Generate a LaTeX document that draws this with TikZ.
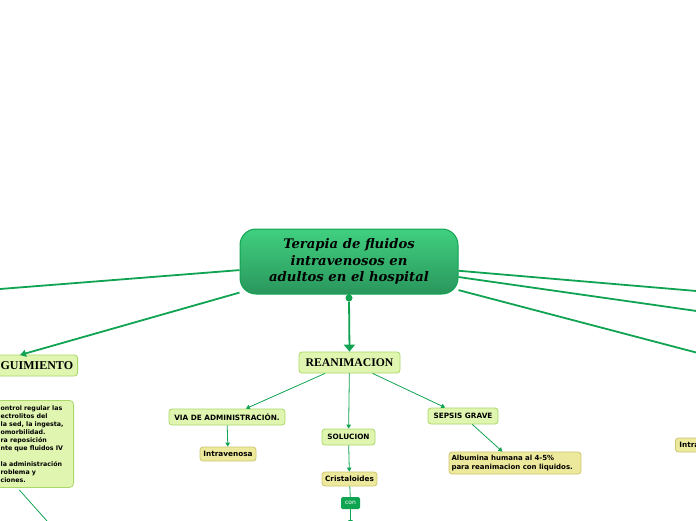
\documentclass[tikz,border=0pt]{standalone}
\usepackage{fontspec}
\setmainfont{Liberation Serif}
\newfontfamily\titlefont{DejaVu Serif}
\newfontfamily\labelfont{DejaVu Sans}
\usetikzlibrary{arrows.meta,calc}
\definecolor{linegreen}{RGB}{16,163,82}
\definecolor{topgreen}{RGB}{64,208,128}
\definecolor{botgreen}{RGB}{42,150,92}
\definecolor{lightfill}{RGB}{224,246,176}
\definecolor{lightedge}{RGB}{170,216,104}
\definecolor{yellowfill}{RGB}{236,232,156}
\definecolor{yellowedge}{RGB}{206,198,112}
\definecolor{conbox}{RGB}{14,164,80}

\begin{document}
\begin{tikzpicture}[x=1pt,y=-1pt,
  mainline/.style={linegreen,line width=1.8pt},
  subline/.style={linegreen,line width=0.8pt},
  maintip/.style={-{Triangle[width=7pt,length=6pt]}},
  subtip/.style={-{Triangle[width=4.5pt,length=4pt]}},
  topic/.style={draw=lightedge,fill=lightfill,rounded corners=3pt,line width=0.8pt,inner sep=0pt,
    font=\bfseries\fontsize{11.7}{13}\selectfont},
  sub/.style={draw=lightedge,fill=lightfill,rounded corners=3pt,line width=0.8pt,inner sep=0pt,
    font=\labelfont\bfseries\fontsize{7.3}{9}\selectfont},
  leaf/.style={sub,draw=yellowedge,fill=yellowfill}]
  \useasboundingbox (0,0) rectangle (696,520);
  \clip (0,0) rectangle (696,520);

  \node[shade,top color=topgreen,bottom color=botgreen,draw=linegreen,line width=1pt,
    rounded corners=16pt,minimum width=218,minimum height=65,align=center,
    font=\titlefont\bfseries\itshape\fontsize{13.2}{16.5}\selectfont] (central) at (349,261.5)
    {Terapia de fluidos\\intravenosos en\\adultos en el hospital};
  \node[circle,fill=linegreen,inner sep=0pt,minimum size=7] (dot) at (349,298) {};

  \node[topic,minimum width=101,minimum height=21] (reanim) at (349.5,362.5) {REANIMACION};
  \node[topic,minimum height=21,inner xsep=4.5pt,anchor=east,font=\bfseries\fontsize{12}{13}\selectfont]
    (seg) at (78,365.5) {SEGUIMIENTO};
  \node[sub,rounded corners=4pt,anchor=north east,text width=69,inner xsep=4pt,minimum height=87,
    align=left,font=\labelfont\bfseries\fontsize{6.3}{8}\selectfont] (tbox) at (74,400)
    {ontrol regular las\\ectrolitos del\\la sed, la ingesta,\\omorbilidad.\\ra reposición\\nte que fluidos IV\\[8pt]la administración\\roblema y\\ciones.};

  \node[sub,minimum width=116,minimum height=16] (via) at (227,417) {VIA DE ADMINISTRACIÓN.};
  \node[leaf,minimum width=56,minimum height=14] (intra) at (228,454) {Intravenosa};
  \node[sub,minimum width=53,minimum height=16] (sol) at (348.5,437) {SOLUCION};
  \node[leaf,minimum width=55,minimum height=14] (crist) at (349.5,479) {Cristaloides};
  \node[fill=conbox,rounded corners=1.5pt,minimum width=19,minimum height=12,inner sep=0pt,
    text=white,font=\labelfont\fontsize{6}{7}\selectfont] (con) at (350.5,503) {con};
  \node[sub,minimum width=70,minimum height=16] (sepsis) at (463,416) {SEPSIS GRAVE};
  \node[leaf,text width=127,inner xsep=2.5pt,minimum height=22,align=left,
    font=\labelfont\bfseries\fontsize{7}{9.5}\selectfont] (alb) at (515,463)
    {Albumina humana al 4-5\%\\para reanimacion con liquidos.};
  \node[leaf,minimum height=14,inner xsep=4pt,anchor=west] (intraright) at (675,445) {Intravenosa};

  \coordinate (leftend) at (0,289);
  \coordinate (segtip) at (20,355);
  \coordinate (rightA) at (700,291.3);
  \coordinate (rightB) at (700,311.5);
  \coordinate (rightC) at (700,353.5);
  \coordinate (tboxend) at (47,521);
  \coordinate (conend) at (350.5,524);

  \draw[mainline] (central) -- (leftend);
  \draw[mainline,maintip] (central) -- (segtip);
  \draw[mainline] (central) -- (rightA);
  \draw[mainline] (central) -- (rightB);
  \draw[mainline] (central) -- (rightC);
  \draw[mainline] (central.south) -- (dot);
  \draw[mainline,-{Triangle[width=11pt,length=7pt]}] (dot) -- (reanim.north);

  \draw[subline,subtip] (reanim) -- (via);
  \draw[subline,subtip] (reanim) -- (sol);
  \draw[subline,subtip] (reanim) -- (sepsis);
  \draw[subline,subtip] (via) -- (intra);
  \draw[subline,subtip] (sol) -- (crist);
  \draw[subline] (crist) -- (con);
  \draw[subline,subtip] (con) -- (conend);
  \draw[subline,subtip] (sepsis) -- (alb);
  \draw[subline] ($(tbox.south west)+(23,2)$) -- (tboxend);
\end{tikzpicture}
\end{document}
